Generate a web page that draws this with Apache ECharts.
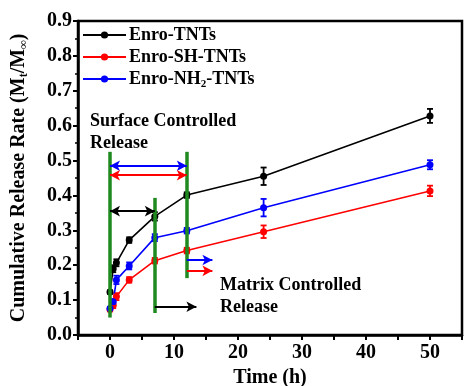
<!DOCTYPE html>
<html>
<head>
<meta charset="utf-8">
<script src="https://cdn.jsdelivr.net/npm/echarts@6/dist/echarts.min.js"></script>
<style>
html,body{margin:0;padding:0;background:#fff;}
#main{width:465px;height:386px;}
</style>
</head>
<body>
<div id="main"></div>
<script>
var times = [0, 0.5, 1, 3, 7, 12, 24, 50];
var tnts = [0.123, 0.19, 0.207, 0.272, 0.34, 0.401, 0.455, 0.628];
var shTnts = [0.073, 0.085, 0.11, 0.158, 0.213, 0.242, 0.296, 0.413];
var nhTnts = [0.076, 0.095, 0.158, 0.198, 0.279, 0.299, 0.365, 0.488];
var tntsErr = [0.005, 0.01, 0.01, 0.008, 0.012, 0.008, 0.025, 0.02];
var shErr = [0.005, 0.008, 0.01, 0.008, 0.008, 0.008, 0.018, 0.015];
var nhErr = [0.005, 0.008, 0.012, 0.01, 0.01, 0.008, 0.025, 0.013];

// 标注: 绿色竖线 [x, y0, y1]
var phaseLines = [[0, 0.05, 0.525], [7, 0.063, 0.393], [12, 0.163, 0.525]];
// 箭头 [x0, x1, y, 颜色, 双向]
var arrows = [
    [0, 12, 0.485, '#0000ff', true],
    [0, 12, 0.458, '#ff0000', true],
    [0, 7, 0.355, '#000000', true],
    [12, 16, 0.215, '#0000ff', false],
    [12, 16, 0.184, '#ff0000', false],
    [7, 13.5, 0.081, '#000000', false]
];

var font = "'Liberation Serif','Times New Roman',serif";
var chart = echarts.init(document.getElementById('main'));

function pairs(ys){
    return times.map(function(t, i){ return [t, ys[i]]; });
}
function errData(ys, es){
    return times.map(function(t, i){ return [t, ys[i], es[i]]; });
}
function errSeries(ys, es, color){
    return {
        type: 'custom',
        silent: true,
        z: 3,
        data: errData(ys, es),
        renderItem: function(params, api){
            var x = api.value(0), y = api.value(1), e = api.value(2);
            var lo = api.coord([x, y - e]), hi = api.coord([x, y + e]);
            var st = {stroke: color, lineWidth: 1.8};
            return {
                type: 'group',
                children: [
                    {type: 'line', shape: {x1: lo[0], y1: lo[1], x2: hi[0], y2: hi[1]}, style: st},
                    {type: 'line', shape: {x1: lo[0] - 3, y1: lo[1], x2: lo[0] + 3, y2: lo[1]}, style: st},
                    {type: 'line', shape: {x1: hi[0] - 3, y1: hi[1], x2: hi[0] + 3, y2: hi[1]}, style: st}
                ]
            };
        }
    };
}
function lineSeries(name, ys, color){
    return {
        name: name,
        type: 'line',
        data: pairs(ys),
        symbol: 'circle',
        symbolSize: 7,
        z: 4,
        lineStyle: {color: color, width: 1.6},
        itemStyle: {color: color}
    };
}

var markData = [];
phaseLines.forEach(function(g){
    markData.push([
        {coord: [g[0], g[1]], symbol: 'none', lineStyle: {color: '#1f8a1f', width: 3.5, type: 'solid'}},
        {coord: [g[0], g[2]], symbol: 'none'}
    ]);
});
arrows.forEach(function(a){
    markData.push([
        {coord: [a[0], a[2]], symbol: a[4] ? 'arrow' : 'none', symbolSize: [8, 10],
            lineStyle: {color: a[3], width: 2, type: 'solid'}},
        {coord: [a[1], a[2]], symbol: 'arrow', symbolSize: [8, 10]}
    ]);
});

var option = {
    animation: false,
    grid: {left: 78, right: 3, top: 21, bottom: 51, outerBoundsMode: 'none', show: true, borderColor: '#000', borderWidth: 2.5},
    legend: {
        orient: 'vertical',
        left: 82,
        top: 26,
        padding: 0,
        itemGap: 4,
        itemWidth: 43,
        itemHeight: 9,
        data: ['Enro-TNTs', 'Enro-SH-TNTs', 'Enro-NH2-TNTs'],
        formatter: function(n){
            return n == 'Enro-NH2-TNTs' ? 'Enro-NH{sub|2}-TNTs' : n;
        },
        textStyle: {
            fontFamily: font, fontWeight: 'bold', fontSize: 18, color: '#000', padding: [0, 0, 0, -2],
            rich: {sub: {fontFamily: font, fontWeight: 'bold', fontSize: 11, verticalAlign: 'bottom', padding: [10, 0, 0, 0]}}
        }
    },
    xAxis: {
        type: 'value',
        min: -5,
        max: 55,
        interval: 5,
        name: 'Time (h)',
        nameLocation: 'middle',
        nameGap: 32,
        nameTextStyle: {fontFamily: font, fontWeight: 'bold', fontSize: 20, color: '#000'},
        axisLine: {onZero: false, lineStyle: {color: '#000', width: 2.5}},
        axisTick: {lineStyle: {color: '#000', width: 2}, length: 5},
        splitLine: {show: false},
        axisLabel: {
            fontFamily: font, fontWeight: 'bold', fontSize: 20, color: '#000', margin: 8,
            formatter: function(v){ return v % 10 == 0 ? v : ''; }
        }
    },
    yAxis: {
        type: 'value',
        min: 0,
        max: 0.9,
        interval: 0.1,
        name: 'Cumulative Release Rate (M{sub|t}/M{sub|∞})',
        nameLocation: 'middle',
        nameRotate: 90,
        nameGap: 48,
        nameTextStyle: {
            fontFamily: font, fontWeight: 'bold', fontSize: 20, color: '#000',
            rich: {sub: {fontFamily: font, fontWeight: 'bold', fontSize: 12, verticalAlign: 'bottom', padding: [10, 0, 0, 0]}}
        },
        axisLine: {show: true, onZero: false, lineStyle: {color: '#000', width: 2.5}},
        axisTick: {show: true, lineStyle: {color: '#000', width: 2}, length: 5},
        minorTick: {show: true, splitNumber: 2, length: 3, lineStyle: {color: '#000', width: 1.5}},
        splitLine: {show: false},
        axisLabel: {
            fontFamily: font, fontWeight: 'bold', fontSize: 20, color: '#000', margin: 6,
            formatter: function(v){ return v.toFixed(1); }
        }
    },
    graphic: [
        {type: 'text', left: 90, top: 112, style: {text: 'Surface Controlled', font: 'bold 18px ' + font, fill: '#000'}},
        {type: 'text', left: 90, top: 134, style: {text: 'Release', font: 'bold 18px ' + font, fill: '#000'}},
        {type: 'text', left: 220, top: 276, style: {text: 'Matrix Controlled', font: 'bold 18px ' + font, fill: '#000'}},
        {type: 'text', left: 220, top: 298, style: {text: 'Release', font: 'bold 18px ' + font, fill: '#000'}}
    ],
    series: [
        {
            type: 'line',
            data: [],
            silent: true,
            z: 2,
            markLine: {silent: true, animation: false, label: {show: false}, data: markData}
        },
        errSeries(tnts, tntsErr, '#000'),
        errSeries(shTnts, shErr, '#ff0000'),
        errSeries(nhTnts, nhErr, '#0000ff'),
        lineSeries('Enro-TNTs', tnts, '#000'),
        lineSeries('Enro-SH-TNTs', shTnts, '#ff0000'),
        lineSeries('Enro-NH2-TNTs', nhTnts, '#0000ff')
    ]
};
chart.setOption(option);
</script>
</body>
</html>
